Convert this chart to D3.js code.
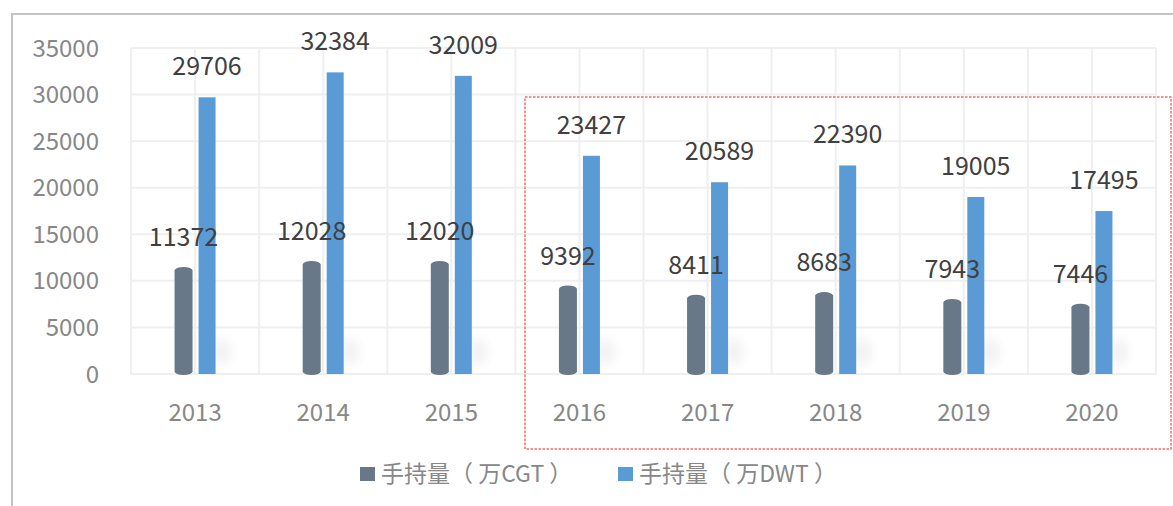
<!DOCTYPE html>
<html>
<head>
<meta charset="utf-8">
<script src="https://cdn.jsdelivr.net/npm/d3@7"></script>
<style>
  html, body { margin: 0; padding: 0; background: #fff; }
  svg { display: block; font-family: "Noto Sans CJK SC", "Noto Sans", sans-serif; }
</style>
</head>
<body>
<svg id="chart" width="1173" height="506"></svg>
<script>
// data
const years = ["2013", "2014", "2015", "2016", "2017", "2018", "2019", "2020"];
const cgt = [11372, 12028, 12020, 9392, 8411, 8683, 7943, 7446];
const dwt = [29706, 32384, 32009, 23427, 20589, 22390, 19005, 17495];
const seriesNames = ["手持量（ 万CGT ）", "手持量（ 万DWT ）"];
const yTicks = [0, 5000, 10000, 15000, 20000, 25000, 30000, 35000];

const colors = { cgt: "#687889", dwt: "#5b9bd5" };

const svg = d3.select("#chart");
const W = 1173, H = 506;

// plot box (names avoid window.top etc.)
const plotL = 131, plotR = 1156, plotT = 48, plotB = 374;

const x = d3.scaleBand().domain(years).range([plotL, plotR]);
const y = d3.scaleLinear().domain([0, 35000]).range([plotB, plotT]);

// outer frame (only top and left edges visible)
svg.append("path")
    .attr("d", `M12,${H} V14 H${W}`)
    .attr("fill", "none")
    .attr("stroke", "#c3c3c3")
    .attr("stroke-width", 2);

// defs: blur for the faint shadows
const defs = svg.append("defs");
defs.append("filter").attr("id", "blur")
    .attr("x", "-100%").attr("y", "-100%").attr("width", "300%").attr("height", "300%")
  .append("feGaussianBlur").attr("stdDeviation", 6);

// grid: horizontal lines
const grid = svg.append("g").attr("stroke", "#efefef").attr("stroke-width", 2);
grid.selectAll("line.h")
    .data(yTicks)
    .enter().append("line")
    .attr("x1", plotL).attr("x2", plotR)
    .attr("y1", d => y(d)).attr("y2", d => y(d));

// vertical lines at band edges and band centres
const vx = [];
years.forEach(yr => { vx.push(x(yr)); vx.push(x(yr) + x.bandwidth() / 2); });
vx.push(plotR);
grid.selectAll("line.v")
    .data(vx)
    .enter().append("line")
    .attr("x1", d => d).attr("x2", d => d)
    .attr("y1", plotT).attr("y2", plotB);

// y-axis labels
svg.append("g").selectAll("text")
    .data(yTicks)
    .enter().append("text")
    .attr("x", 99)
    .attr("y", d => y(d))
    .attr("dy", "0.36em")
    .attr("text-anchor", "end")
    .attr("font-size", 24)
    .attr("fill", "#878787")
    .text(d => d);

// x-axis labels
svg.append("g").selectAll("text")
    .data(years)
    .enter().append("text")
    .attr("x", d => x(d) + x.bandwidth() / 2)
    .attr("y", 421)
    .attr("text-anchor", "middle")
    .attr("font-size", 24)
    .attr("fill", "#878787")
    .text(d => d);

const barW = 18;
const cx = i => x(years[i]) + x.bandwidth() / 2;

// faint shadows behind the blue bars
svg.append("g").selectAll("ellipse")
    .data(dwt)
    .enter().append("ellipse")
    .attr("cx", (d, i) => cx(i) + 26)
    .attr("cy", plotB - 22)
    .attr("rx", 10).attr("ry", 14)
    .attr("fill", "#000")
    .attr("opacity", 0.05)
    .attr("filter", "url(#blur)");

// grey cylinders (CGT)
svg.append("g").selectAll("rect")
    .data(cgt)
    .enter().append("rect")
    .attr("x", (d, i) => cx(i) - 11.5 - barW / 2)
    .attr("y", d => y(d) - 1)
    .attr("width", barW)
    .attr("height", d => plotB - y(d) + 2)
    .attr("rx", barW / 2).attr("ry", 3.5)
    .attr("fill", colors.cgt);

// blue bars (DWT)
svg.append("g").selectAll("rect")
    .data(dwt)
    .enter().append("rect")
    .attr("x", (d, i) => cx(i) + 12.5 - barW / 2)
    .attr("y", d => y(d))
    .attr("width", barW - 1)
    .attr("height", d => plotB - y(d))
    .attr("fill", colors.dwt);

// value labels
svg.append("g").selectAll("text")
    .data(cgt)
    .enter().append("text")
    .attr("x", (d, i) => cx(i) - 11.5)
    .attr("y", d => y(d) - 22)
    .attr("text-anchor", "middle")
    .attr("font-size", 25)
    .attr("fill", "#404040")
    .text(d => d);

svg.append("g").selectAll("text")
    .data(dwt)
    .enter().append("text")
    .attr("x", (d, i) => cx(i) + 12)
    .attr("y", d => y(d) - 22)
    .attr("text-anchor", "middle")
    .attr("font-size", 25)
    .attr("fill", "#404040")
    .text(d => d);

// red dotted highlight box around 2016-2020
svg.append("rect")
    .attr("x", 525).attr("y", 97)
    .attr("width", 646).attr("height", 352)
    .attr("fill", "none")
    .attr("stroke", "#f26a6a")
    .attr("stroke-width", 1.5)
    .attr("stroke-dasharray", "2.5,1.5");

// legend
const legend = svg.append("g");
const legendX = [360, 618];
[colors.cgt, colors.dwt].forEach((c, i) => {
    legend.append("rect")
        .attr("x", legendX[i]).attr("y", 467)
        .attr("width", 15).attr("height", 14)
        .attr("fill", c);
    legend.append("text")
        .attr("x", legendX[i] + 21)
        .attr("y", 482)
        .attr("font-size", 23)
        .attr("fill", "#878787")
        .attr("xml:space", "preserve")
        .style("white-space", "pre")
        .text(seriesNames[i]);
});
</script>
</body>
</html>
